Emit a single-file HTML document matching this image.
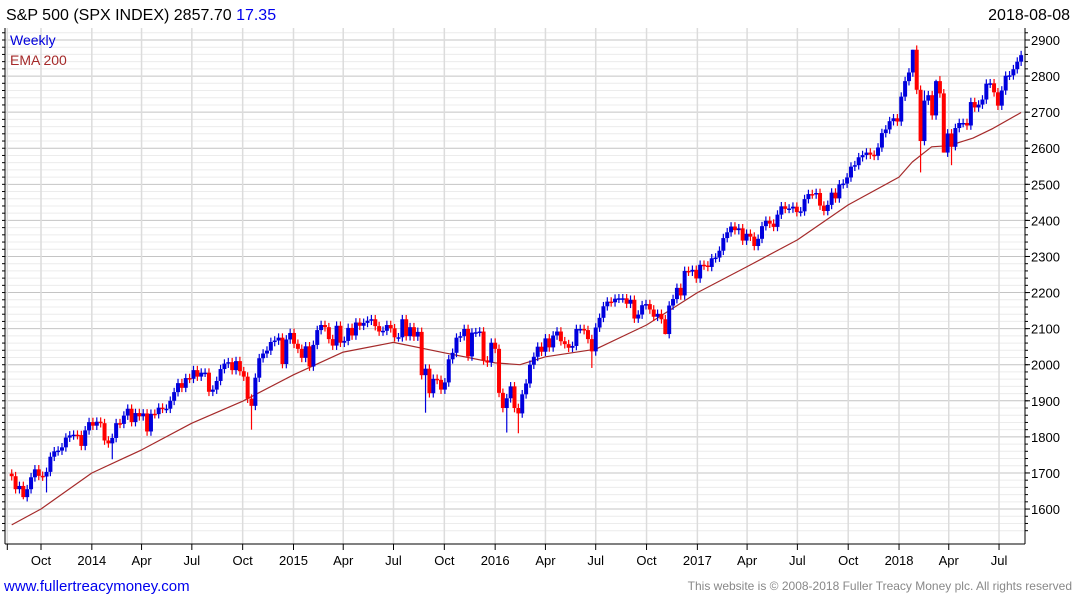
<!DOCTYPE html>
<html><head><meta charset="utf-8"><style>
body{margin:0;background:#fff;font-family:"Liberation Sans",sans-serif}
#wrap{position:relative;width:1075px;height:600px;overflow:hidden}
svg text{font-family:"Liberation Sans",sans-serif}
</style></head><body>
<div id="wrap">
<svg id="chart" width="1075" height="600">
<text x="6" y="20" font-size="16" fill="#000">S&amp;P 500 (SPX INDEX) 2857.70 <tspan fill="#0000ee">17.35</tspan></text>
<text x="1070" y="20" font-size="16" fill="#000" text-anchor="end">2018-08-08</text>
<text x="4" y="591" font-size="15" fill="#0000ee">www.fullertreacymoney.com</text>
<text x="1072" y="590" font-size="12" fill="#888" text-anchor="end">This website is © 2008-2018 Fuller Treacy Money plc. All rights reserved</text>
</svg>
</div>
<script>
const closes=[1691,1655,1664,1633,1655,1688,1710,1692,1690,1703,1745,1760,1762,1771,1798,1804,1806,1805,1775,1818,1841,
1831,1842,1838,1790,1782,1797,1838,1836,1859,1878,1841,1866,1857,1865,1815,1864,1863,1881,1878,1878,1900,1924,1949,1936,1963,1961,1985,1967,1978,1978,1925,1931,1955,1988,2003,2007,1985,2010,1982,1967,1906,1886,1964,2018,2031,2039,2063,2067,2075,2002,2070,2088,
2058,2044,2019,2051,1995,2055,2096,2110,2104,2071,2053,2108,2061,2066,2102,2081,2117,2108,2116,2122,2126,2107,2092,2094,2110,2101,2076,2076,2126,2079,2104,2078,2091,1971,1989,1921,1961,1958,1931,1951,2015,2033,2075,2079,2099,2023,2089,2090,2092,2012,2006,2061,2044,
1922,1880,1907,1940,1880,1865,1918,1948,2000,2022,2050,2036,2073,2048,2081,2092,2065,2057,2047,2052,2099,2099,2096,2071,2037,2103,2130,2162,2175,2173,2183,2184,2184,2169,2180,2128,2139,2165,2168,2153,2133,2141,2126,2085,2164,2182,2213,2192,2260,2258,2263,2239,
2277,2275,2271,2295,2297,2316,2351,2367,2383,2373,2378,2344,2363,2355,2329,2349,2384,2399,2391,2382,2416,2439,2432,2433,2438,2423,2425,2459,2473,2472,2476,2441,2426,2443,2477,2461,2500,2502,2519,2549,2553,2575,2581,2588,2582,2579,2602,2642,2652,2675,2683,2674,
2743,2786,2810,2873,2762,2620,2732,2747,2691,2786,2752,2588,2641,2604,2656,2670,2670,2663,2728,2713,2721,2735,2779,2780,2755,2718,2760,2801,2802,2819,2840,2858];
const firstOpen=1698;
// notable long wicks: [index, low] / [index, high]
const wickLows=[[3,1627],[9,1646],[26,1738],[62,1820],[107,1867],[128,1812],[131,1810],[150,1991],[169,2084],[235,2533],[241,2588],[243,2553],[244,2594]];
const wickHighs=[[233,2873],[236,2760],[239,2790],[240,2800]];
const emaDates=['2013-08-09','2013-10-01','2014-01-01','2014-04-01','2014-07-01','2014-10-01','2015-01-01','2015-04-01','2015-07-01','2015-10-01','2016-01-01','2016-02-15','2016-04-01','2016-07-01','2016-10-01','2017-01-01','2017-04-01','2017-07-01','2017-10-01','2018-01-01','2018-01-25','2018-03-01','2018-04-01','2018-05-15','2018-06-20','2018-08-10'];
const emaVals=[1556,1600,1700,1764,1838,1899,1972,2035,2062,2033,2005,2000,2022,2043,2110,2200,2272,2346,2443,2520,2562,2604,2607,2628,2655,2699];
const priceTicks=[1600,1700,1800,1900,2000,2100,2200,2300,2400,2500,2600,2700,2800,2900];
const timeTicks=[['2013-08-01',''],['2013-10-01','Oct'],['2014-01-01','2014'],['2014-04-01','Apr'],['2014-07-01','Jul'],['2014-10-01','Oct'],['2015-01-01','2015'],['2015-04-01','Apr'],['2015-07-01','Jul'],['2015-10-01','Oct'],['2016-01-01','2016'],['2016-04-01','Apr'],['2016-07-01','Jul'],['2016-10-01','Oct'],['2017-01-01','2017'],['2017-04-01','Apr'],['2017-07-01','Jul'],['2017-10-01','Oct'],['2018-01-01','2018'],['2018-04-01','Apr'],['2018-07-01','Jul']];

const L=5,R=1025,T=28,B=544;
const D0=Date.UTC(2013,9,1);
const day=86400000;
function xd(s){const p=s.split('-');return 41+(Date.UTC(+p[0],p[1]-1,+p[2])-D0)/day*0.5525;}
function y(p){return 40+(2900-p)*0.3608;}
const svg=document.getElementById('chart');
const NS='http://www.w3.org/2000/svg';
function mk(t,a,parent){const e=document.createElementNS(NS,t);for(const k in a)e.setAttribute(k,a[k]);(parent||svg).appendChild(e);return e;}
const grid=mk('g',{});


for(let p=1540;p<=2920;p+=20){if(p%100===0)continue;const yy=y(p);if(yy<T||yy>B)continue;
 mk('line',{x1:L,x2:R,y1:yy,y2:yy,stroke:'#ececec','stroke-width':1},grid);}
priceTicks.forEach(p=>{const yy=y(p);
 mk('line',{x1:L,x2:R,y1:yy,y2:yy,stroke:'#c4c4c4','stroke-width':1},grid);
 const t=mk('text',{x:1031,y:yy+5,'font-size':13,fill:'#000'});t.textContent=p;
 
 
 mk('line',{x1:R,x2:R+5,y1:yy,y2:yy,stroke:'#000'});});
for(let p=1540;p<=2920;p+=20){const yy=y(p);if(yy<T||yy>B)continue;mk('line',{x1:R,x2:R+3,y1:yy,y2:yy,stroke:'#000'});mk('line',{x1:L,x2:L-3,y1:yy,y2:yy,stroke:'#000'});}
timeTicks.forEach(tk=>{const xx=xd(tk[0]);
 mk('line',{x1:xx,x2:xx,y1:T,y2:B,stroke:'#dcdcdc','stroke-width':1.5},grid);
 mk('line',{x1:xx,x2:xx,y1:B,y2:B+6,stroke:'#000'});
 if(tk[1]){const t=mk('text',{x:xx,y:565,'font-size':13,'text-anchor':'middle',fill:'#000'});t.textContent=tk[1];
 
 }});
mk('line',{x1:L,x2:L,y1:T,y2:B,stroke:'#000'});
mk('line',{x1:R,x2:R,y1:T,y2:B,stroke:'#000'});
mk('line',{x1:L,x2:R,y1:B,y2:B,stroke:'#000'});
const ema=mk('polyline',{fill:'none',stroke:'#a52a2a','stroke-width':1.2,'stroke-linejoin':'round',points:emaDates.map((d,i)=>xd(d).toFixed(1)+','+y(emaVals[i]).toFixed(1)).join(' ')});


const lowMap={},highMap={};wickLows.forEach(w=>lowMap[w[0]]=w[1]);wickHighs.forEach(w=>highMap[w[0]]=w[1]);
const n=closes.length;const lastX=xd('2018-08-10');
const cg=mk('g',{});


for(let i=0;i<n;i++){
 const o=i?closes[i-1]:firstOpen,c=closes[i];
 const xx=lastX-(n-1-i)*7*0.5525;
 const up=c>=o,col=up?'#0000dd':'#ff0000';
 let hi=Math.max(o,c)+12,lo=Math.min(o,c)-12;
 if(lowMap[i])lo=lowMap[i];if(highMap[i])hi=highMap[i];
 const g=mk('g',{},cg);
 
 
 mk('line',{x1:xx,x2:xx,y1:y(hi),y2:y(lo),stroke:col,'stroke-width':1.2},g);
 const top=y(Math.max(o,c)),h=Math.max(1.5,y(Math.min(o,c))-top);
 mk('rect',{x:xx-2,y:top,width:4,height:h,fill:col},g);
}
const l1=mk('text',{x:10,y:45,'font-size':14,fill:'#0000dd'});l1.textContent='Weekly';


const l2=mk('text',{x:10,y:65,'font-size':14,fill:'#a52a2a'});l2.textContent='EMA 200';


</script>
</body></html>
